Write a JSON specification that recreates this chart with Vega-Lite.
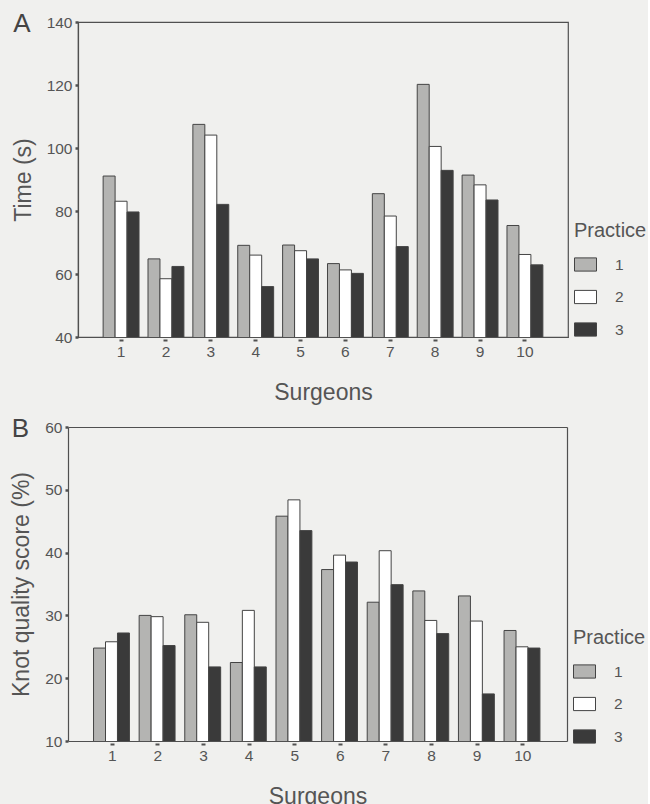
{
  "$schema": "https://vega.github.io/schema/vega-lite/v6.json",
  "background": "#f0f0ee",
  "padding": {"left": 10, "top": 10, "right": 0, "bottom": 0},
  "spacing": 10,
  "config": {
    "font": "Liberation Sans",
    "view": {"stroke": "#505050", "strokeWidth": 1.2},
    "axis": {
      "domainColor": "#505050",
      "domainWidth": 1.2,
      "tickColor": "#505050",
      "labelColor": "#555555",
      "titleColor": "#555555",
      "labelFont": "Liberation Sans",
      "titleFont": "Liberation Sans",
      "labelFontSize": 15.5,
      "titleFontSize": 23,
      "titleFontWeight": "normal",
      "grid": false
    },
    "axisX": {"tickSize": 4, "tickWidth": 4, "tickDash": [0, 2, 2, 100], "labelPadding": 3, "labelAngle": 0, "titlePadding": 22},
    "axisY": {"tickSize": 3, "tickWidth": 2.5, "labelPadding": 3, "titlePadding": 11},
    "legend": {
      "titleFont": "Liberation Sans",
      "labelFont": "Liberation Sans",
      "titleFontSize": 20,
      "titleFontWeight": "normal",
      "titleColor": "#555555",
      "labelColor": "#555555",
      "labelFontSize": 15.5,
      "symbolType": "M-1,-0.6L1,-0.6L1,0.6L-1,0.6Z",
      "symbolSize": 484,
      "symbolStrokeColor": "#444444",
      "symbolStrokeWidth": 1,
      "rowPadding": 11.5,
      "labelOffset": 18,
      "titlePadding": 12
    },
    "title": {"font": "Liberation Sans", "fontSize": 26, "fontWeight": "normal", "color": "#444444", "anchor": "start", "frame": "bounds"}
  },
  "datasets": {
    "timeA": [
      {"surgeon": 1, "practice": "1", "value": 91.1}, {"surgeon": 1, "practice": "2", "value": 83.1}, {"surgeon": 1, "practice": "3", "value": 79.7},
      {"surgeon": 2, "practice": "1", "value": 64.8}, {"surgeon": 2, "practice": "2", "value": 58.5}, {"surgeon": 2, "practice": "3", "value": 62.4},
      {"surgeon": 3, "practice": "1", "value": 107.5}, {"surgeon": 3, "practice": "2", "value": 104.1}, {"surgeon": 3, "practice": "3", "value": 82.1},
      {"surgeon": 4, "practice": "1", "value": 69.1}, {"surgeon": 4, "practice": "2", "value": 66.0}, {"surgeon": 4, "practice": "3", "value": 56.0},
      {"surgeon": 5, "practice": "1", "value": 69.2}, {"surgeon": 5, "practice": "2", "value": 67.4}, {"surgeon": 5, "practice": "3", "value": 64.8},
      {"surgeon": 6, "practice": "1", "value": 63.3}, {"surgeon": 6, "practice": "2", "value": 61.3}, {"surgeon": 6, "practice": "3", "value": 60.2},
      {"surgeon": 7, "practice": "1", "value": 85.5}, {"surgeon": 7, "practice": "2", "value": 78.4}, {"surgeon": 7, "practice": "3", "value": 68.7},
      {"surgeon": 8, "practice": "1", "value": 120.2}, {"surgeon": 8, "practice": "2", "value": 100.5}, {"surgeon": 8, "practice": "3", "value": 92.9},
      {"surgeon": 9, "practice": "1", "value": 91.4}, {"surgeon": 9, "practice": "2", "value": 88.3}, {"surgeon": 9, "practice": "3", "value": 83.5},
      {"surgeon": 10, "practice": "1", "value": 75.4}, {"surgeon": 10, "practice": "2", "value": 66.2}, {"surgeon": 10, "practice": "3", "value": 62.9}
    ],
    "knotB": [
      {"surgeon": 1, "practice": "1", "value": 24.8}, {"surgeon": 1, "practice": "2", "value": 25.8}, {"surgeon": 1, "practice": "3", "value": 27.2},
      {"surgeon": 2, "practice": "1", "value": 30.0}, {"surgeon": 2, "practice": "2", "value": 29.8}, {"surgeon": 2, "practice": "3", "value": 25.2},
      {"surgeon": 3, "practice": "1", "value": 30.1}, {"surgeon": 3, "practice": "2", "value": 28.9}, {"surgeon": 3, "practice": "3", "value": 21.8},
      {"surgeon": 4, "practice": "1", "value": 22.5}, {"surgeon": 4, "practice": "2", "value": 30.8}, {"surgeon": 4, "practice": "3", "value": 21.8},
      {"surgeon": 5, "practice": "1", "value": 45.8}, {"surgeon": 5, "practice": "2", "value": 48.4}, {"surgeon": 5, "practice": "3", "value": 43.5},
      {"surgeon": 6, "practice": "1", "value": 37.3}, {"surgeon": 6, "practice": "2", "value": 39.6}, {"surgeon": 6, "practice": "3", "value": 38.5},
      {"surgeon": 7, "practice": "1", "value": 32.1}, {"surgeon": 7, "practice": "2", "value": 40.3}, {"surgeon": 7, "practice": "3", "value": 34.9},
      {"surgeon": 8, "practice": "1", "value": 33.9}, {"surgeon": 8, "practice": "2", "value": 29.2}, {"surgeon": 8, "practice": "3", "value": 27.1},
      {"surgeon": 9, "practice": "1", "value": 33.1}, {"surgeon": 9, "practice": "2", "value": 29.1}, {"surgeon": 9, "practice": "3", "value": 17.5},
      {"surgeon": 10, "practice": "1", "value": 27.6}, {"surgeon": 10, "practice": "2", "value": 25.0}, {"surgeon": 10, "practice": "3", "value": 24.8}
    ]
  },
  "vconcat": [
    {
      "title": {"text": "A", "dy": 26, "dx": 1},
      "width": 490,
      "height": 315,
      "data": {"name": "timeA"},
      "mark": {"type": "bar", "stroke": "#444444", "strokeWidth": 1, "clip": true},
      "encoding": {
        "x": {"field": "surgeon", "type": "ordinal", "title": "Surgeons",
              "scale": {"paddingInner": 0.2, "paddingOuter": 0.56}},
        "xOffset": {"field": "practice", "type": "nominal", "scale": {"paddingInner": 0, "paddingOuter": 0}},
        "y": {"field": "value", "type": "quantitative", "title": "Time (s)",
              "scale": {"domain": [40, 140], "zero": false, "nice": false},
              "axis": {"values": [40, 60, 80, 100, 120, 140]}},
        "fill": {"field": "practice", "type": "nominal", "title": "Practice",
                 "scale": {"domain": ["1", "2", "3"], "range": ["#b4b4b2", "#ffffff", "#3a3a3a"]},
                 "legend": {"orient": "none", "legendX": 496, "legendY": 199}}
      }
    },
    {
      "title": {"text": "B", "dy": 26, "dx": 1},
      "width": 489,
      "height": 314,
      "view": {"stroke": null},
      "data": {"name": "knotB"},
      "layer": [
        {
          "mark": {"type": "bar", "stroke": "#444444", "strokeWidth": 1, "clip": true},
          "encoding": {
            "x": {"field": "surgeon", "type": "ordinal", "title": "Surgeons",
                  "scale": {"range": [-10, 489], "paddingInner": 0.18, "paddingOuter": 0.56}},
            "xOffset": {"field": "practice", "type": "nominal", "scale": {"paddingInner": 0, "paddingOuter": 0}},
            "y": {"field": "value", "type": "quantitative", "title": "Knot quality score (%)",
                  "scale": {"domain": [10, 60], "zero": false, "nice": false},
                  "axis": {"values": [10, 20, 30, 40, 50, 60], "offset": 10}},
            "fill": {"field": "practice", "type": "nominal", "title": "Practice",
                     "scale": {"domain": ["1", "2", "3"], "range": ["#b4b4b2", "#ffffff", "#3a3a3a"]},
                     "legend": {"orient": "none", "legendX": 495, "legendY": 201}}
          }
        },
        {
          "mark": {"type": "bar", "opacity": 0, "clip": true},
          "encoding": {
            "x": {"field": "surgeon", "type": "ordinal",
                  "axis": {"orient": "top", "ticks": false, "labels": false, "title": null, "domain": true}},
            "y": {"field": "value", "type": "quantitative",
                  "axis": {"orient": "right", "ticks": false, "labels": false, "title": null, "domain": true}}
          }
        }
      ],
      "resolve": {"axis": {"x": "independent", "y": "independent"}}
    }
  ],
  "resolve": {"scale": {"fill": "independent"}, "legend": {"fill": "independent"}}
}
